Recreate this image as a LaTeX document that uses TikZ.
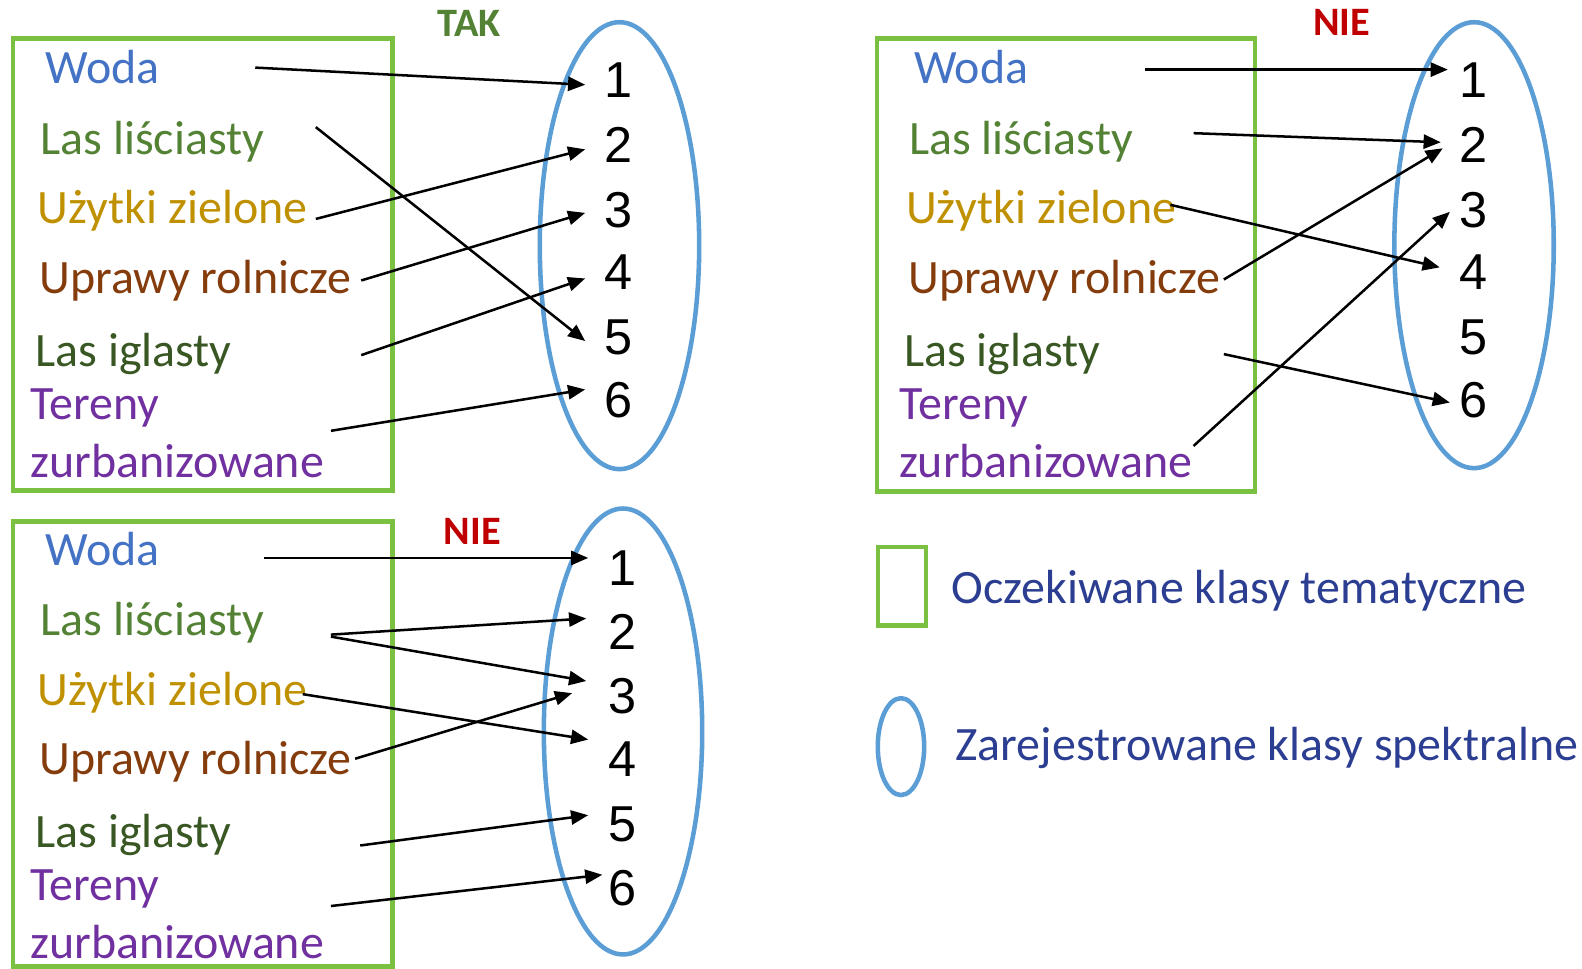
\documentclass[tikz,border=0pt]{standalone}
\usepackage{fontspec}
\setmainfont{Carlito}
\newfontfamily\numfont{Liberation Sans}
\usetikzlibrary{arrows.meta}

\definecolor{boxgreen}{RGB}{122,193,66}
\definecolor{ellblue}{RGB}{91,157,213}
\definecolor{cwoda}{RGB}{68,114,196}
\definecolor{cliscie}{RGB}{84,130,53}
\definecolor{cuzytki}{RGB}{191,144,0}
\definecolor{cuprawy}{RGB}{132,60,12}
\definecolor{cigla}{RGB}{56,87,35}
\definecolor{cteren}{RGB}{112,48,160}
\definecolor{cyes}{RGB}{84,130,53}
\definecolor{cno}{RGB}{192,0,0}
\definecolor{clegend}{RGB}{44,62,145}

\tikzset{
  lab/.style={anchor=base west, inner sep=0pt, font=\fontsize{47.5}{52}\selectfont},
  num/.style={anchor=base, inner sep=0pt, font=\numfont\fontsize{50}{54}\selectfont},
  verdict/.style={anchor=base, inner sep=0pt, font=\bfseries\fontsize{40}{44}\selectfont},
  classbox/.style={draw=boxgreen, line width=4.5pt},
  classell/.style={draw=ellblue, line width=4.5pt},
  arr/.style={line width=2.5pt, -{Triangle[length=17pt,width=14pt]}},
}

% the seven thematic class labels of one panel, names prefixed by #1
\newcommand\themlabels[1]{%
  \node[lab, text=cwoda]   (#1woda) at (45,83)  {Woda};
  \node[lab, text=cliscie] (#1lis)  at (40,153) {Las liściasty};
  \node[lab, text=cuzytki] (#1uzy)  at (37,222) {Użytki zielone};
  \node[lab, text=cuprawy] (#1upr)  at (39,291) {Uprawy rolnicze};
  \node[lab, text=cigla]   (#1igl)  at (35,363) {Las iglasty};
  \node[lab, text=cteren]  (#1ter)  at (30,416) {Tereny};
  \node[lab, text=cteren]  (#1zur)  at (30,473) {zurbanizowane};
}

\begin{document}
\begin{tikzpicture}[x=1pt, y=-1pt]
\useasboundingbox (0,0) rectangle (1568,960);

% ---------------- panel A (top left) ----------------
\draw[classbox] (13,38) rectangle (389,486);
\draw[classell] (614,243.5) ellipse [x radius=79, y radius=221.5];
\begin{scope}[shift={(0,0)}]\themlabels{A}\end{scope}
\node[verdict, text=cyes] (Atag) at (465,36) {TAK};
\foreach \i/\yy in {1/97,2/161,3/225,4/287,5/351,6/414}
  \node[num] (A\i) at (613,\yy) {\i};

\coordinate (As1) at (253,67);  \coordinate (Ae1) at (580,84);
\coordinate (As2) at (313,126); \coordinate (Ae2) at (580,338);
\coordinate (As3) at (313,217); \coordinate (Ae3) at (580,148);
\coordinate (As4) at (358,278); \coordinate (Ae4) at (580,211);
\coordinate (As5) at (358,352); \coordinate (Ae5) at (580,276);
\coordinate (As6) at (328,427); \coordinate (Ae6) at (580,386);
\foreach \k in {1,...,6} \draw[arr] (As\k) -- (Ae\k);

% ---------------- panel B (top right) ----------------
\draw[classbox] (869,38) rectangle (1244,487);
\draw[classell] (1461,243) ellipse [x radius=79, y radius=221];
\begin{scope}[shift={(861,0)}]\themlabels{B}\end{scope}
\node[verdict, text=cno] (Btag) at (1330,35) {NIE};
\foreach \i/\yy in {1/97,2/161,3/225,4/287,5/351,6/414}
  \node[num] (B\i) at (1460,\yy) {\i};

\coordinate (Bs1) at (1135,69);  \coordinate (Be1) at (1435,69);
\coordinate (Bs2) at (1183,132); \coordinate (Be2) at (1428,141);
\coordinate (Bs3) at (1160,203); \coordinate (Be3) at (1427,265);
\coordinate (Bs4) at (1213,277); \coordinate (Be4) at (1430,147);
\coordinate (Bs5) at (1213,351); \coordinate (Be5) at (1437,399);
\coordinate (Bs6) at (1183,442); \coordinate (Be6) at (1437,210);
\foreach \k in {1,...,6} \draw[arr] (Bs\k) -- (Be\k);

% ---------------- panel C (bottom left) ----------------
\draw[classbox] (13,517) rectangle (389,958);
\draw[classell] (617.5,725) ellipse [x radius=78.5, y radius=221];
\begin{scope}[shift={(0,477)}]\themlabels{C}\end{scope}
\node[verdict, text=cno] (Ctag) at (468,540) {NIE};
\foreach \i/\yy in {1/580,2/644,3/707,4/770,5/834,6/897}
  \node[num] (C\i) at (617,\yy) {\i};

\coordinate (Cs1) at (262,553); \coordinate (Ce1) at (583,553);
\coordinate (Cs2) at (328,629); \coordinate (Ce2) at (581,613);
\coordinate (Cs3) at (328,631); \coordinate (Ce3) at (581,675);
\coordinate (Cs4) at (300,688); \coordinate (Ce4) at (583,733);
\coordinate (Cs5) at (352,752); \coordinate (Ce5) at (567,687);
\coordinate (Cs6) at (357,838); \coordinate (Ce6) at (583,808);
\coordinate (Cs7) at (328,898); \coordinate (Ce7) at (597,867);
\foreach \k in {1,...,7} \draw[arr] (Cs\k) -- (Ce\k);

% ---------------- legend ----------------
\draw[classbox] (870,542) rectangle (918,620) node[pos=0.5] (legbox) {};
\draw[classell] (893,740) ellipse [x radius=23, y radius=48];
\node[lab, text=clegend] (legtxt1) at (943,598) {Oczekiwane klasy tematyczne};
\node[lab, text=clegend] (legtxt2) at (947,754) {Zarejestrowane klasy spektralne};
\end{tikzpicture}
\end{document}
